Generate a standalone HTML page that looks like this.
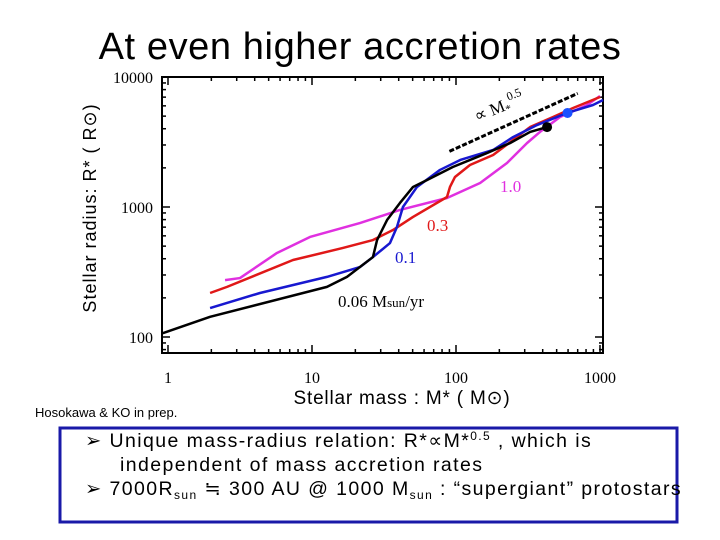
<!DOCTYPE html>
<html><head><meta charset="utf-8"><style>
body{margin:0;background:#fff;width:720px;height:540px;overflow:hidden;font-family:"Liberation Sans",sans-serif;}
svg{position:absolute;left:0;top:0}
</style></head><body>
<svg width="720" height="540">
<text x="360" y="59" font-size="38" letter-spacing="0.6" text-anchor="middle">At even higher accretion rates</text>
<g id="axes"></g>
<g id="series"></g>
<text transform="translate(96,208) rotate(-90)" font-size="18" letter-spacing="1" text-anchor="middle">Stellar radius: R* ( R⊙)</text>
<text x="402" y="404" font-size="19" letter-spacing="0.8" text-anchor="middle">Stellar mass : M* ( M⊙)</text>
<text x="35" y="417" font-size="13">Hosokawa &amp; KO in prep.</text>
<rect x="60" y="428" width="617" height="94" fill="none" stroke="#1a1aa8" stroke-width="3"/>
<g font-size="19.5" letter-spacing="1.4">
<text x="85" y="447">➢ Unique mass-radius relation: R*∝M*<tspan dy="-7" font-size="12">0.5</tspan><tspan dy="7"> , which is</tspan></text>
<text x="120" y="471">independent of mass accretion rates</text>
<text x="85" y="495">➢  7000R<tspan dy="4" font-size="12">sun</tspan><tspan dy="-4"> ≒ 300 AU @ 1000 M</tspan><tspan dy="4" font-size="12">sun</tspan><tspan dy="-4"> : “supergiant” protostars</tspan></text>
</g>
</svg>
<script>
const xTicks=[1,10,100,1000];
const yTicks=[100,1000,10000];
const blackM=[0.92,1.96,12.7,17.5,26.5,28.3,33.2,40.8,50.3,63,95,164,237,327,429];
const blackR=[107,143,243,290,412,557,794,1074,1426,1614,2030,2600,3100,3780,4120];
const blueM=[1.96,4.35,12.7,21.5,26.5,34.8,38.9,42.8,53.6,77.4,107,181,249,365,590,894,1050];
const blueR=[167,218,290,345,412,528,702,1000,1426,1928,2300,2745,3450,4270,5290,6090,6650];
const redM=[1.96,2.57,7.38,16.4,26.5,36.5,50.3,86.6,90.8,98.4,125,181,249,327,472,650,1000];
const redR=[218,243,391,484,557,665,838,1194,1426,1702,2105,2512,3275,4120,4920,5775,7020];
const magM=[2.49,3.16,5.71,9.68,21.5,40.8,86.6,147,226,311,383,528,813,1000];
const magR=[274,284,443,588,753,949,1173,1530,2180,3100,3780,4920,6090,7140];
const dotM=[429,595];
const dotR=[4120,5290];
const fitM=[90,700];
const fitR=[2680,7480];
const X=m=>168+144*Math.log10(m);
const Y=r=>207-130*(Math.log10(r)-3);
const NS="http://www.w3.org/2000/svg";
function mk(t,a,p){const e=document.createElementNS(NS,t);for(const k in a)e.setAttribute(k,a[k]);p.appendChild(e);return e;}
const ax=document.getElementById('axes'), se=document.getElementById('series');
const L=162,R=603,T=77,B=353;
const fr=mk('rect',{x:L,y:T,width:R-L,height:B-T,fill:'none',stroke:'#000','stroke-width':2},ax);


for(let d=0;d<4;d++)for(let k=1;k<10;k++){const m=Math.pow(10,d)*k;const x=X(m);if(x<L||x>R)continue;const len=k==1?8:4;
mk('line',{x1:x,y1:B,x2:x,y2:B-len,stroke:'#000','stroke-width':1.5},ax);mk('line',{x1:x,y1:T,x2:x,y2:T+len,stroke:'#000','stroke-width':1.5},ax);}
for(let d=1;d<5;d++)for(let k=1;k<10;k++){const r=Math.pow(10,d)*k;const y=Y(r);if(y<T||y>B)continue;const len=k==1?8:4;
mk('line',{x1:L,y1:y,x2:L+len,y2:y,stroke:'#000','stroke-width':1.5},ax);mk('line',{x1:R,y1:y,x2:R-len,y2:y,stroke:'#000','stroke-width':1.5},ax);}
xTicks.forEach(v=>{const t=mk('text',{x:X(v),y:383,'font-size':16,'text-anchor':'middle','font-family':'Liberation Serif, serif'},ax);t.textContent=v;

});
yTicks.forEach(v=>{const t=mk('text',{x:153,y:Y(v)+6,'font-size':16,'text-anchor':'end','font-family':'Liberation Serif, serif'},ax);t.textContent=v;

});
function line(M,Rr,c,name){const p=mk('polyline',{points:M.map((m,i)=>X(m)+','+Y(Rr[i])).join(' '),fill:'none',stroke:c,'stroke-width':2.5,'stroke-linejoin':'round'},se);

}
line(magM,magR,'#e030e0','line-1.0');
line(redM,redR,'#e01818','line-0.3');
line(blueM,blueR,'#1818d0','line-0.1');
line(blackM,blackR,'#000','line-0.06');
const fl=mk('line',{x1:X(fitM[0]),y1:Y(fitR[0]),x2:X(fitM[1]),y2:Y(fitR[1]),stroke:'#000','stroke-width':3,'stroke-dasharray':'5,2'},se);


['#000','#1a50ff'].forEach((c,i)=>{const d=mk('circle',{cx:X(dotM[i]),cy:Y(dotR[i]),r:5,fill:c},se);

});
const labs=[['1.0',500,192,'#e030e0'],['0.3',427,231,'#e01818'],['0.1',395,263,'#1818d0']];
labs.forEach(l=>{const t=mk('text',{x:l[1],y:l[2],'font-size':17,fill:l[3],'font-family':'Liberation Serif, serif'},se);t.textContent=l[0];

});
const t6=mk('text',{x:338,y:307,'font-size':17,'font-family':'Liberation Serif, serif'},se);
t6.innerHTML='0.06 M<tspan font-size="13">sun</tspan>/yr';


const pl=mk('text',{transform:'translate(477,122) rotate(-22)','font-size':17,'font-family':'Liberation Serif, serif'},se);
pl.innerHTML='∝ M<tspan font-size="11" dy="3">*</tspan><tspan font-size="12" dy="-11">0.5</tspan>';


</script>
</body></html>
